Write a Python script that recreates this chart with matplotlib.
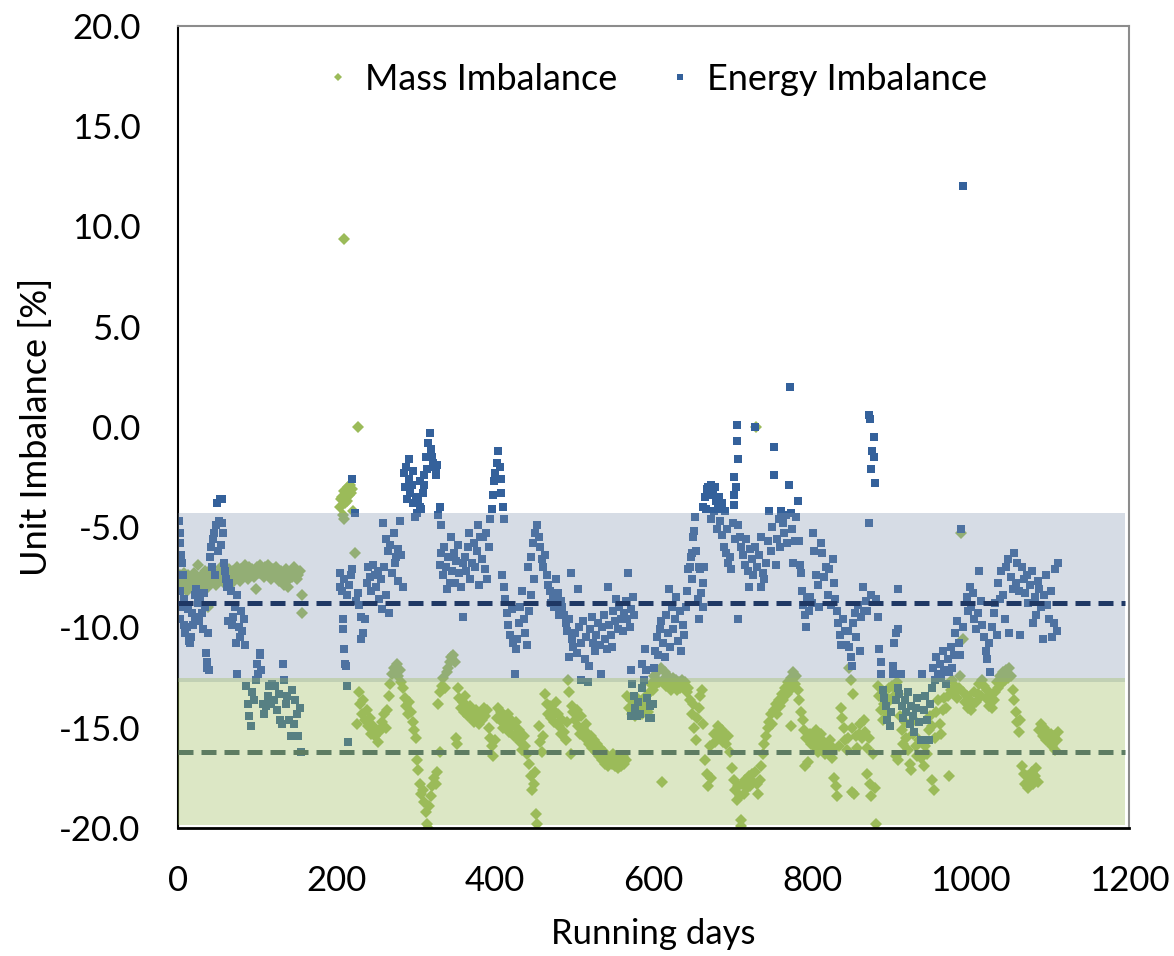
import matplotlib
matplotlib.use("Agg")
import matplotlib.pyplot as plt

# (running day, imbalance %)
mass_yr1 = [
    (0, -7.6), (1, -7.9), (2, -7.4), (3, -8.0), (4, -7.7), (5, -7.5), (6, -8.1), (7, -7.8), (8, -7.3), (9, -7.9),
    (10, -7.6), (11, -8.2), (12, -7.7), (13, -7.4), (14, -7.9), (15, -8.0), (16, -7.6), (18, -7.8), (20, -7.3),
    (22, -7.9), (24, -7.5), (25, -6.9), (26, -7.7), (28, -8.1), (30, -7.4), (32, -7.8), (34, -7.2), (36, -7.6),
    (38, -8.0), (38, -9.0), (40, -7.5), (42, -7.1), (44, -7.7), (46, -7.4), (48, -7.9), (50, -7.3), (52, -7.6),
    (54, -7.0), (56, -7.5), (58, -7.8), (60, -7.2), (62, -7.6), (64, -7.1), (66, -7.4), (68, -7.8), (70, -7.2),
    (72, -7.5), (74, -7.0), (76, -7.3), (78, -7.7), (80, -7.1), (82, -7.4), (84, -6.9), (86, -7.3), (88, -7.6),
    (90, -7.0), (92, -7.4), (94, -7.1), (96, -7.5), (98, -7.2), (99, -8.1), (100, -7.0), (102, -7.3), (104, -6.9),
    (106, -7.2), (108, -7.5), (110, -7.0), (112, -7.3), (114, -6.9), (116, -7.2), (118, -7.6), (120, -7.1),
    (122, -7.4), (124, -7.0), (126, -7.3), (128, -7.7), (130, -7.2), (132, -7.5), (134, -7.9), (136, -7.1),
    (138, -7.4), (139, -8.0), (140, -7.6), (142, -7.2), (144, -7.5), (146, -7.0), (148, -7.3), (150, -7.6),
    (152, -7.4), (154, -7.2), (156, -8.4), (156, -9.3),
    (205, -4.0), (206, -3.6), (207, -3.5), (208, -4.4), (209, 9.4), (209, -3.2), (210, -4.6), (211, -3.8),
    (213, -3.7), (215, -3.0), (216, -3.4), (217, -2.9), (218, -3.3), (219, -3.1), (221, -4.2), (223, -6.3),
    (227, 0.0), (226, -14.8), (228, -13.2), (230, -13.8), (232, -14.3), (234, -13.6), (236, -14.6), (238, -14.1),
    (240, -14.9), (242, -14.5), (244, -15.3), (246, -14.9), (248, -15.4), (250, -15.1), (252, -15.7), (254, -15.2),
    (256, -15.0), (258, -14.7), (260, -14.3), (262, -15.0), (264, -14.1), (266, -13.4), (268, -12.8), (270, -12.3),
    (272, -12.0), (274, -12.2), (276, -11.8), (278, -12.4), (280, -12.1), (282, -12.7), (284, -13.0), (286, -13.5),
    (288, -13.9), (290, -14.3), (292, -13.7), (294, -14.2), (296, -14.7), (298, -15.1), (300, -15.5),
    (301, -16.6), (303, -17.1), (305, -17.8), (307, -18.3), (309, -18.1), (311, -18.7), (313, -19.2), (314, -19.8),
    (315, -20.0), (317, -18.9), (319, -18.4), (321, -17.9), (323, -17.5), (325, -17.8), (327, -17.2), (328, -13.8),
    (330, -16.2), (331, -13.2), (333, -12.9), (335, -12.5), (337, -13.0), (339, -12.2), (341, -12.0), (343, -11.7),
    (345, -11.5), (347, -11.4), (349, -11.7), (351, -15.5), (352, -15.8), (353, -13.0), (355, -13.5), (357, -14.0),
    (359, -13.7), (361, -14.2), (362, -13.4), (364, -14.0),
]
mass_yr2 = [
    (366, -14.4), (368, -13.9), (370, -14.5), (372, -14.2), (374, -14.7), (376, -14.1), (378, -14.5), (380, -14.8),
    (382, -14.3), (384, -14.6), (386, -14.0), (388, -14.4), (390, -14.1), (392, -15.0), (394, -15.5), (396, -15.9),
    (398, -16.4), (400, -15.6), (402, -14.5), (404, -14.0), (406, -14.6), (408, -14.2), (410, -15.0), (412, -14.4),
    (414, -14.8), (416, -14.3), (418, -15.2), (420, -14.6), (422, -14.9), (424, -15.4), (426, -14.7), (428, -15.5),
    (430, -15.1), (432, -15.7), (434, -16.1), (436, -15.4), (438, -15.9), (440, -16.3), (443, -16.8), (445, -17.4),
    (447, -18.1), (449, -17.8), (451, -17.2), (452, -19.3), (453, -19.8), (455, -14.9), (457, -15.7), (459, -16.2),
    (461, -15.4), (463, -13.3), (465, -13.8), (467, -14.3), (469, -13.9), (471, -14.5), (473, -14.1), (475, -14.7),
    (477, -13.7), (479, -14.3), (481, -14.9), (483, -15.3), (485, -14.6), (487, -15.2), (489, -15.6), (491, -14.7),
    (492, -12.6), (494, -13.2), (496, -16.3), (497, -13.9), (499, -14.2), (501, -14.6), (503, -14.1), (505, -14.9),
    (507, -15.3), (509, -14.4), (511, -15.0), (513, -15.5), (515, -14.8), (517, -15.3), (519, -15.8), (521, -15.4),
    (523, -16.0), (525, -15.6), (527, -16.2), (529, -15.8), (531, -16.4), (533, -16.0), (535, -16.6), (537, -16.2),
    (539, -16.8), (541, -16.4), (543, -16.9), (545, -16.5), (547, -16.8), (549, -16.3), (551, -16.9), (553, -16.5),
    (555, -17.0), (557, -16.6), (559, -16.9), (561, -16.4), (563, -16.8), (565, -16.6),
    (567, -13.4), (569, -14.0), (571, -13.6), (573, -14.3), (575, -13.8), (577, -14.4), (579, -13.5), (581, -14.1),
    (583, -13.7), (585, -14.3), (587, -13.6), (589, -14.0), (591, -13.4), (593, -14.2), (595, -13.2), (597, -12.8),
    (599, -13.1), (601, -12.4), (603, -12.8), (605, -12.2), (607, -12.7), (609, -12.0), (611, -17.7), (612, -12.6),
    (614, -12.2), (616, -12.9), (618, -12.4), (620, -12.8), (622, -13.1), (624, -12.5), (626, -12.9), (628, -12.6),
    (630, -13.1), (632, -12.7), (634, -13.0), (636, -12.6), (638, -12.9), (640, -12.7), (642, -13.2), (644, -13.0),
    (646, -13.6), (648, -14.3), (650, -13.8), (651, -15.0), (653, -15.6), (655, -14.5), (657, -14.0), (659, -13.4),
    (661, -13.1), (663, -14.8), (665, -16.6), (667, -17.3), (669, -17.9), (671, -15.9), (673, -17.5), (676, -15.3),
    (678, -15.7), (680, -15.2), (682, -14.9), (684, -15.5), (686, -15.1), (688, -15.7), (690, -15.3), (692, -15.8),
    (694, -15.4), (697, -16.2), (699, -17.0), (701, -17.6), (703, -18.1), (705, -18.6), (707, -17.9), (709, -18.4),
    (710, -19.6), (711, -19.9), (712, -17.8), (714, -18.3), (716, -17.6), (718, -18.0), (720, -17.4), (722, -17.9),
    (724, -17.3), (726, -17.7), (729, 0.0),
]
mass_yr3 = [
    (728, -17.2), (730, -17.8), (732, -18.3), (734, -17.6), (736, -16.9), (738, -16.3), (740, -15.8), (742, -15.4),
    (744, -15.0), (746, -14.7), (748, -14.3), (750, -14.8), (752, -14.1), (754, -13.8), (756, -14.3), (758, -13.6),
    (760, -13.9), (762, -13.3), (764, -13.6), (766, -13.0), (768, -13.3), (770, -12.7), (772, -13.1), (773, -14.9),
    (774, -12.5), (776, -12.2), (778, -12.8), (780, -12.4), (782, -13.1), (784, -13.6), (786, -14.2), (788, -14.6),
    (790, -15.1), (791, -16.9), (793, -15.5), (795, -16.7), (797, -15.3), (799, -15.8), (801, -15.4), (803, -15.9),
    (805, -15.1), (807, -16.2), (809, -15.6), (811, -15.3), (813, -16.0), (815, -15.7), (817, -16.3), (819, -15.8),
    (821, -16.2), (823, -15.6), (825, -16.5), (827, -16.0), (828, -17.5), (830, -17.9), (832, -18.4), (834, -15.9),
    (836, -14.0), (838, -14.5), (840, -15.0), (842, -15.6), (844, -16.1), (846, -15.5), (847, -12.0), (849, -12.6),
    (850, -18.2), (851, -15.0), (852, -13.3), (853, -18.3), (855, -15.4), (857, -16.0), (859, -15.3), (861, -14.8),
    (863, -15.5), (865, -14.6), (867, -15.2), (869, -16.0), (870, -17.3), (872, -15.5), (873, -17.8), (875, -18.4),
    (877, -16.3), (879, -18.0), (881, -19.8), (883, -12.9), (885, -13.4), (887, -14.1), (889, -14.6), (891, -13.8),
    (893, -14.2), (895, -13.5), (897, -13.0), (899, -13.6), (901, -12.9), (903, -13.4), (905, -13.0), (906, -16.4),
    (907, -12.7), (908, -16.6), (909, -13.3), (911, -14.4), (913, -15.1), (915, -15.8), (917, -14.7), (919, -15.5),
    (921, -16.1), (923, -16.8), (925, -17.1), (927, -15.3), (929, -14.6), (931, -15.9), (933, -16.4), (935, -15.6),
    (937, -16.5), (939, -15.7), (941, -16.9), (943, -15.9), (945, -16.3), (947, -15.1), (949, -14.4), (951, -14.9),
    (952, -17.6), (954, -18.1), (955, -15.5), (957, -14.2), (959, -13.6), (961, -14.8), (963, -15.3), (965, -14.1),
    (967, -13.5), (969, -14.0), (971, -13.4), (973, -17.4), (975, -13.1), (977, -12.6), (979, -13.3), (981, -12.9),
    (983, -13.5), (985, -13.0), (987, -12.4), (988, -5.3), (990, -10.6), (991, -13.2), (993, -13.7), (995, -13.4),
    (997, -14.0), (999, -13.6), (1001, -14.1), (1003, -13.8), (1005, -13.2), (1007, -13.7), (1009, -13.3),
    (1011, -12.8), (1013, -13.4), (1015, -12.6), (1017, -12.9), (1019, -13.5), (1021, -13.1), (1023, -13.9),
    (1025, -13.5), (1027, -14.0), (1029, -13.6), (1031, -13.2), (1033, -12.7), (1035, -13.0), (1037, -12.4),
    (1039, -12.8), (1041, -12.2), (1043, -12.6), (1045, -12.1), (1047, -12.5), (1049, -12.0), (1051, -12.4),
    (1053, -13.1), (1055, -13.6), (1057, -14.2), (1059, -14.7), (1061, -15.2), (1063, -14.6), (1065, -16.9),
    (1067, -17.3), (1069, -17.8), (1071, -17.4), (1073, -18.0), (1075, -17.6), (1077, -17.2), (1079, -17.8),
    (1081, -17.4), (1083, -17.0), (1085, -17.7), (1087, -15.1), (1089, -14.8), (1091, -15.4), (1093, -15.0),
    (1095, -15.6), (1097, -15.2), (1099, -15.7), (1101, -15.3), (1103, -15.9), (1105, -15.4), (1107, -16.1),
    (1109, -15.6), (1111, -15.2),
]

energy_yr1 = [
    (1, -4.7), (2, -5.3), (3, -5.8), (4, -6.4), (5, -6.8), (6, -7.4), (2, -9.6), (3, -8.2), (5, -9.0), (7, -8.6),
    (8, -9.9), (9, -10.3), (11, -10.0), (13, -9.1), (14, -10.7), (15, -10.8), (17, -10.5), (18, -9.3), (19, -9.9),
    (21, -9.5), (22, -8.4), (23, -8.1), (25, -8.8), (26, -9.7), (28, -8.5), (30, -9.3), (31, -10.1), (33, -8.3),
    (34, -9.0), (35, -11.3), (36, -11.7), (37, -12.0), (38, -10.3), (39, -12.1), (40, -6.5), (42, -6.0), (43, -7.0),
    (44, -5.6), (46, -5.3), (47, -7.4), (48, -4.9), (49, -3.8), (50, -6.2), (52, -4.7), (53, -3.6), (54, -5.9),
    (55, -4.8), (56, -3.6), (57, -5.3), (58, -6.8), (59, -7.2), (60, -7.6), (62, -8.0), (63, -9.7), (65, -7.8),
    (67, -8.2), (68, -9.9), (70, -9.5), (72, -9.0), (73, -10.8), (74, -12.3), (75, -8.4), (77, -10.0), (78, -10.5),
    (80, -9.2), (81, -10.2), (83, -9.6), (84, -10.9), (86, -12.9), (88, -13.8), (90, -14.4), (92, -14.9), (94, -13.2),
    (96, -13.6), (98, -12.6), (100, -11.8), (101, -12.3), (103, -11.4), (104, -11.3), (105, -12.1), (107, -13.8),
    (109, -14.3), (111, -13.9), (113, -13.4), (115, -12.9), (117, -13.8), (119, -12.8), (121, -13.6), (123, -12.9),
    (125, -14.1), (127, -13.3), (129, -14.6), (131, -14.8), (133, -11.8), (134, -12.6), (136, -13.8), (138, -13.4),
    (140, -14.6), (142, -15.4), (144, -13.1), (146, -14.8), (148, -13.6), (150, -14.3), (152, -15.4), (154, -14.0),
    (155, -16.2),
    (204, -7.3), (205, -8.0), (207, -8.2), (208, -9.6), (208, -10.1), (209, -11.1), (210, -7.6), (211, -11.8),
    (212, -11.9), (213, -8.4), (213, -12.9), (215, -15.7), (216, -7.9), (218, -7.4), (219, -7.1), (220, -2.6),
    (223, -4.3), (225, -8.7), (227, -8.3), (229, -8.9), (231, -9.5), (231, -10.6), (233, -10.3), (236, -9.6),
    (238, -7.8), (240, -7.0), (242, -7.5), (244, -8.2), (246, -6.9), (248, -7.4), (250, -8.0), (252, -7.2),
    (254, -8.6), (256, -7.6), (258, -9.1), (259, -4.8), (260, -7.0), (262, -5.6), (263, -8.4), (265, -6.2),
    (266, -9.3), (268, -5.9), (270, -7.3), (272, -5.3), (274, -6.8), (275, -6.5), (277, -7.7), (278, -6.1),
    (280, -4.7), (282, -6.4), (284, -8.0),
    (285, -2.3), (287, -3.0), (288, -2.0), (289, -3.6), (291, -2.6), (292, -1.6), (293, -3.3), (295, -2.9),
    (296, -3.8), (297, -2.2), (299, -4.5), (300, -3.5), (301, -4.3), (303, -3.6), (305, -4.0), (306, -2.7),
    (307, -4.1), (309, -3.3), (310, -2.4), (311, -2.9), (313, -1.5), (314, -2.1), (316, -0.8), (318, -0.3),
    (319, -1.1), (320, -1.5), (322, -1.8), (324, -2.0), (325, -2.4), (326, -2.3), (327, -1.9), (328, -4.4),
    (330, -4.0), (332, -4.9), (330, -6.9), (332, -6.3), (334, -7.4), (336, -6.0), (338, -7.0), (340, -8.1),
    (341, -6.5), (343, -7.8), (345, -5.5), (346, -7.2), (348, -6.3), (350, -7.8), (351, -6.7), (353, -5.9),
    (355, -7.3), (357, -8.0), (359, -9.5), (360, -6.8), (362, -6.5), (364, -7.2),
]
energy_yr2 = [
    (366, -6.0), (367, -5.3), (369, -7.6), (371, -6.8), (373, -5.8), (375, -7.0), (377, -6.2), (379, -4.9),
    (380, -7.9), (381, -5.5), (383, -6.6), (385, -5.5), (387, -7.1), (389, -5.3), (390, -7.6), (392, -6.0),
    (394, -4.6), (396, -4.1), (397, -3.4), (399, -2.7), (400, -2.3), (402, -1.8), (404, -1.2), (406, -2.0),
    (407, -2.6), (408, -3.3), (409, -7.4), (410, -4.0), (411, -4.6), (411, -8.0), (413, -8.6), (415, -9.3),
    (417, -9.9), (419, -10.4), (421, -9.1), (423, -10.8), (425, -12.3), (426, -11.1), (428, -10.6), (430, -9.8),
    (432, -9.0), (434, -8.2), (436, -9.6), (438, -10.3), (440, -10.9), (442, -7.0), (443, -9.2), (445, -6.5),
    (446, -8.4), (448, -5.8), (449, -7.6), (451, -5.3), (453, -4.9), (455, -5.5), (457, -6.0), (459, -6.6),
    (461, -7.0), (463, -6.4), (465, -7.4), (467, -7.9), (469, -8.2), (471, -8.8), (473, -8.5), (475, -9.0),
    (477, -7.6), (479, -8.3), (481, -9.4), (483, -8.7), (485, -9.0), (487, -9.4), (489, -9.8), (491, -10.2),
    (493, -11.5), (494, -9.6), (496, -7.3), (497, -10.6), (499, -11.0), (501, -10.3), (503, -11.3), (505, -8.1),
    (506, -10.0), (508, -12.6), (509, -10.8), (511, -9.7), (513, -11.6), (515, -10.5), (517, -12.7), (518, -11.9),
    (520, -10.1), (522, -9.5), (524, -10.8), (526, -11.2), (528, -10.4), (530, -9.8), (532, -10.9), (534, -12.3),
    (535, -10.0), (537, -9.4), (539, -10.6), (541, -11.1), (542, -8.0), (544, -9.9), (546, -10.4), (548, -11.0),
    (549, -9.2), (551, -9.7), (553, -8.6), (555, -10.1), (557, -9.0), (559, -9.6), (561, -10.2), (563, -9.3),
    (565, -8.7), (567, -9.6), (568, -7.3), (570, -10.0), (572, -9.1), (574, -8.5), (576, -9.4),
    (571, -12.1), (572, -14.4), (573, -12.8), (575, -13.4), (577, -14.0), (579, -14.4), (581, -13.7), (583, -14.3),
    (585, -11.8), (586, -13.0), (588, -12.6), (589, -11.1), (591, -12.1), (592, -13.5), (594, -14.5), (596, -13.9),
    (597, -14.5), (599, -13.8), (600, -12.0), (602, -11.2), (604, -10.5), (606, -11.4), (608, -10.1), (610, -9.7),
    (612, -10.8), (614, -11.5), (616, -9.4), (618, -10.3), (620, -8.1), (621, -11.0), (623, -9.0), (625, -10.1),
    (627, -9.6), (629, -8.5), (631, -10.7), (633, -9.2), (635, -11.2), (637, -9.9), (639, -10.4), (641, -9.0),
    (642, -8.2), (644, -7.1), (646, -7.0), (647, -6.5), (648, -6.3), (648, -7.6), (650, -5.5), (651, -5.2),
    (652, -4.5), (654, -6.2), (656, -8.6), (657, -7.0), (658, -9.6), (659, -7.1), (660, -8.3), (662, -7.8),
    (663, -9.0), (664, -7.0), (662, -4.0), (665, -3.5), (666, -4.1), (667, -3.1), (669, -3.0), (671, -3.1),
    (672, -4.6), (673, -2.9), (675, -3.4), (676, -4.2), (677, -3.0), (679, -3.7), (680, -5.1), (681, -4.1),
    (683, -3.5), (684, -4.7), (686, -3.8), (687, -5.4), (689, -6.0), (690, -4.2), (692, -6.3), (693, -5.1),
    (694, -6.8), (696, -6.5), (698, -7.1), (700, -4.8), (701, -2.5), (701, -3.4), (701, -3.9), (703, -5.6),
    (704, -3.0), (705, 0.1), (705, -0.7), (706, -1.6), (706, -9.6), (707, -4.9), (709, -5.5), (711, -6.0),
    (713, -6.4), (715, -6.9), (717, -5.6), (719, -7.2), (721, -8.0), (722, -6.1), (724, -6.6), (726, -7.4),
    (728, 0.0),
]
energy_yr3 = [
    (728, -6.0), (731, -7.0), (733, -6.4), (735, -5.5), (736, -8.0), (738, -7.3), (740, -7.6), (742, -6.8),
    (744, -5.7), (746, -4.2), (748, -6.2), (750, -5.0), (752, -1.0), (752, -2.4), (754, -6.9), (756, -5.6),
    (758, -4.6), (760, -6.0), (761, -4.2), (763, -4.8), (765, -5.3), (767, -4.4), (769, -5.8), (771, -2.9),
    (772, 2.0), (773, -4.3), (775, -5.1), (776, -6.8), (778, -5.7), (780, -4.5), (782, -3.7), (783, -5.7),
    (785, -6.9), (786, -7.3), (787, -8.2), (789, -8.9), (791, -9.4), (792, -10.0), (794, -8.6), (796, -9.2),
    (798, -8.5), (800, -8.8), (801, -5.3), (803, -6.2), (805, -7.4), (807, -7.9), (809, -9.0), (811, -5.8),
    (813, -6.3), (815, -7.5), (818, -7.0), (820, -8.4), (822, -7.1), (824, -8.9), (826, -6.6), (828, -7.8),
    (829, -8.6), (831, -9.2), (833, -9.8), (835, -10.4), (837, -10.9), (839, -9.6), (841, -10.2), (843, -10.9),
    (845, -10.2), (847, -11.0), (849, -11.5), (850, -11.9), (852, -9.8), (854, -9.3), (856, -10.5), (858, -8.9),
    (860, -11.2), (862, -9.5), (864, -8.0), (866, -9.2), (868, -8.7), (870, -9.2), (872, 0.6), (873, 0.4),
    (872, -4.8), (874, -8.4), (875, -2.1), (876, -1.2), (878, -0.5), (878, -1.5), (880, -2.8), (881, -8.6),
    (883, -9.5), (885, -11.1), (887, -11.7), (887, -12.3), (889, -13.1), (891, -13.5), (893, -13.9), (895, -14.6),
    (898, -14.9), (900, -14.2), (902, -11.9), (902, -12.3), (904, -10.8), (906, -10.3), (906, -13.6), (908, -10.1),
    (908, -8.1), (909, -13.0), (912, -12.3), (910, -13.3), (913, -13.9), (915, -14.5), (917, -13.6), (919, -14.2),
    (921, -13.2), (923, -14.8), (925, -13.9), (927, -14.4), (929, -15.2), (931, -14.0), (933, -13.5), (935, -14.7),
    (937, -15.6), (939, -12.3), (941, -14.1), (943, -13.4), (945, -14.6), (947, -15.6), (949, -13.8), (951, -13.0),
    (953, -12.0), (955, -12.6), (957, -11.5), (959, -12.3), (961, -11.8), (963, -12.5), (965, -11.2), (967, -12.1),
    (969, -12.8), (971, -11.6), (973, -12.2), (975, -11.0), (977, -12.0), (979, -11.4), (981, -10.3), (983, -9.7),
    (985, -10.8), (987, -11.4), (988, -5.1), (990, -10.0), (990, 12.0), (995, -8.5), (997, -9.2), (999, -8.0),
    (1001, -9.0), (1003, -8.3), (1005, -9.6), (1007, -10.1), (1009, -9.3), (1011, -7.2), (1013, -8.7),
    (1015, -9.9), (1017, -10.5), (1019, -11.2), (1021, -11.6), (1023, -10.8), (1025, -12.2), (1027, -10.0),
    (1029, -9.3), (1031, -8.8), (1033, -10.4), (1035, -7.8), (1037, -8.6), (1039, -7.2), (1041, -8.4),
    (1043, -9.6), (1045, -7.0), (1047, -6.6), (1049, -10.3), (1051, -7.5), (1053, -8.1), (1055, -6.3),
    (1057, -7.8), (1059, -6.8), (1061, -8.2), (1063, -10.4), (1065, -7.0), (1067, -7.6), (1069, -8.3),
    (1071, -7.4), (1073, -8.8), (1075, -7.9), (1077, -7.2), (1079, -9.8), (1081, -8.5), (1083, -9.4),
    (1085, -7.7), (1087, -8.1), (1089, -9.0), (1091, -10.6), (1093, -8.4), (1095, -7.4), (1097, -8.9),
    (1099, -9.6), (1101, -8.2), (1103, -10.5), (1105, -9.8), (1107, -7.1), (1109, -10.2), (1111, -6.8),
]

# shaded ranges and mean lines
energy_band = (-12.7, -4.3)
mass_band = (-19.85, -12.5)
energy_mean = -8.8
mass_mean = -16.2

x_ticks = [0, 200, 400, 600, 800, 1000, 1200]
y_ticks = [-20, -15, -10, -5, 0, 5, 10, 15, 20]

plt.rcParams['font.family'] = ['Lato', 'DejaVu Sans']
plt.rcParams['axes.unicode_minus'] = False

mass = mass_yr1 + mass_yr2 + mass_yr3
energy = energy_yr1 + energy_yr2 + energy_yr3

fig = plt.figure(figsize=(11.74, 9.56), dpi=100)
ax = fig.add_axes([0.1516, 0.134, 0.8101, 0.8388])

ax.plot([p[0] for p in mass], [p[1] for p in mass], 'D', color='#9bbb59',
        markersize=6.2, markeredgewidth=0, label='Mass Imbalance', zorder=2)
ax.plot([p[0] for p in energy], [p[1] for p in energy], 's', color='#34619b',
        markersize=6.0, markeredgewidth=0, label='Energy Imbalance', zorder=2.1)

# bands sit over the markers, as in the original
ax.axhspan(energy_band[0], energy_band[1], xmin=0, xmax=1195 / 1200,
           color='#8496b0', alpha=0.33, lw=0, zorder=3)
ax.axhspan(mass_band[0], mass_band[1], xmin=0, xmax=1195 / 1200,
           color='#9bbb59', alpha=0.35, lw=0, zorder=3)
ax.plot([0, 1195], [energy_mean, energy_mean], color='#1f3864', lw=3.6,
        dashes=(3.0, 1.6), zorder=4)
ax.plot([0, 1195], [mass_mean, mass_mean], color='#5e7c62', lw=3.6,
        dashes=(3.0, 1.6), zorder=4)

ax.set_xlim(0, 1200)
ax.set_ylim(-20, 20)
ax.set_xticks(x_ticks)
ax.set_yticks(y_ticks)
ax.set_yticklabels(['{:.1f}'.format(v) for v in y_ticks])
ax.tick_params(length=0, labelsize=25, pad=27)

for side in ['top', 'right']:
    ax.spines[side].set_color('#8c8c8c')
    ax.spines[side].set_linewidth(1.5)
ax.spines['left'].set_color('black')
ax.spines['left'].set_linewidth(1.5)
ax.spines['bottom'].set_color('black')
ax.spines['bottom'].set_linewidth(2)

ax.set_xlabel('Running days', fontsize=25, labelpad=15)
ax.set_ylabel('Unit Imbalance [%]', fontsize=26, labelpad=4)

ax.legend(loc='upper center', bbox_to_anchor=(0.503, 0.995), ncol=2, frameon=False,
          fontsize=26, markerscale=0.7, handlelength=0.7, handletextpad=0.4,
          columnspacing=1.4)

fig.savefig('out.png', dpi=100)
